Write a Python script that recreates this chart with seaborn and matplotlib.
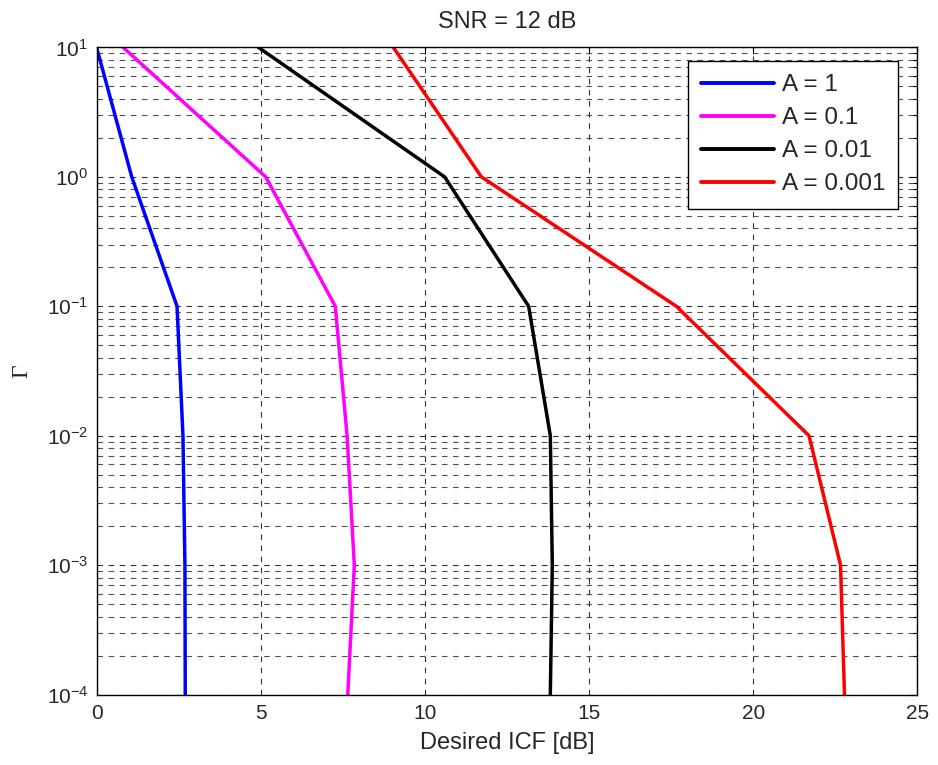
import numpy as np
import pandas as pd
import matplotlib
matplotlib.use("Agg")
import matplotlib.pyplot as plt
import seaborn as sns
from matplotlib.ticker import LogLocator, NullFormatter

gamma = [10, 1, 0.1, 0.01, 0.001, 0.0001]
icf_a1 = [0.0, 1.07, 2.45, 2.63, 2.69, 2.70]
icf_a01 = [0.81, 5.15, 7.27, 7.63, 7.85, 7.65]
icf_a001 = [4.93, 10.6, 13.16, 13.82, 13.88, 13.82]
icf_a0001 = [9.04, 11.72, 17.66, 21.7, 22.66, 22.78]
labels = ["A = 1", "A = 0.1", "A = 0.01", "A = 0.001"]
colors = ["#0000ff", "#ff00ff", "#000000", "#ff0000"]

rows = []
for lab, vals in zip(labels, [icf_a1, icf_a01, icf_a001, icf_a0001]):
    for g, v in zip(gamma, vals):
        rows.append({"ICF": v, "Gamma": g, "A": lab})
df = pd.DataFrame(rows)

sns.set_style("white")
plt.rcParams["font.family"] = ["Liberation Sans", "DejaVu Sans"]
plt.rcParams["mathtext.fontset"] = "custom"
plt.rcParams["mathtext.rm"] = "Liberation Sans"
plt.rcParams["mathtext.it"] = "Liberation Sans"
plt.rcParams["mathtext.default"] = "regular"

fig = plt.figure(figsize=(9.38, 7.65), dpi=100)
ax = fig.add_axes([0.103, 0.092, 0.875, 0.846])

sns.lineplot(data=df, x="ICF", y="Gamma", hue="A", palette=colors,
             hue_order=labels, sort=False, estimator=None, linewidth=2.5,
             ax=ax, legend=True)
ax.set_yscale("log")
ax.set_xlim(0, 25)
ax.set_ylim(1e-4, 10)
ax.set_xticks([0, 5, 10, 15, 20, 25])
ax.yaxis.set_major_locator(LogLocator(base=10, numticks=10))
ax.yaxis.set_minor_locator(LogLocator(base=10, subs=np.arange(2, 10), numticks=100))
ax.yaxis.set_minor_formatter(NullFormatter())

ax.grid(True, which="major", axis="both", linestyle=(0, (5, 5)), color="#303030", linewidth=0.8)
ax.grid(True, which="minor", axis="y", linestyle=(0, (5, 5)), color="#505050", linewidth=0.8)
ax.tick_params(which="both", direction="in", top=True, right=True, labelsize=15,
               length=5, width=0.8, color="black")
ax.tick_params(axis="x", pad=7)
ax.tick_params(axis="y", pad=6)
ax.tick_params(which="minor", length=3)
for s in ax.spines.values():
    s.set_color("black")
    s.set_linewidth(1.0)

ax.set_xlabel("Desired ICF [dB]", fontsize=17, labelpad=6)
ax.set_ylabel("Γ", fontsize=17, family=["Liberation Serif", "DejaVu Serif"], labelpad=10)
ax.set_title("SNR = 12 dB", fontsize=17, pad=14)

leg = ax.legend(loc="upper right", bbox_to_anchor=(0.977, 0.979), borderaxespad=0,
                fontsize=17.5, frameon=True, fancybox=False, edgecolor="black",
                framealpha=1, handlelength=3.0, handletextpad=0.3, borderpad=0.55,
                labelspacing=0.45)
leg.get_frame().set_linewidth(1.0)
for h in leg.get_lines():
    h.set_linewidth(2.8)

fig.savefig("out.png", dpi=100)
